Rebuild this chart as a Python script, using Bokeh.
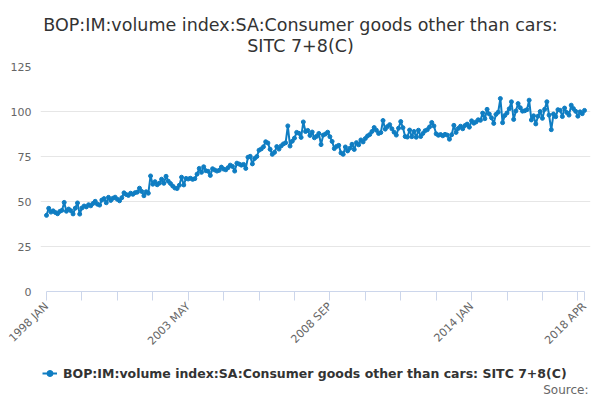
import math
from bokeh.plotting import figure
from bokeh.layouts import column
from bokeh.models import Range1d, FixedTicker, Label, Legend, LegendItem, ColumnDataSource
from bokeh.embed import file_html
from bokeh.resources import INLINE

TITLE_1 = "BOP:IM:volume index:SA:Consumer goods other than cars:"
TITLE_2 = "SITC 7+8(C)"
SERIES_NAME = "BOP:IM:volume index:SA:Consumer goods other than cars: SITC 7+8(C)"
SOURCE = "Source:"

MONTH_NAMES = ["JAN", "FEB", "MAR", "APR", "MAY", "JUN",
               "JUL", "AUG", "SEP", "OCT", "NOV", "DEC"]
START_YEAR = 1998

values = [
    # 1998
    42.3, 46.2, 44.1, 44.8, 43.9, 43.2, 44.5, 45.1, 49.5, 44.6, 45.8, 44.9,
    # 1999
    43.1, 46.3, 49.2, 43.0, 46.4, 47.5, 47.0, 48.2, 47.6, 48.9, 50.1, 48.5,
    # 2000
    48.0, 50.8, 51.6, 49.3, 52.3, 50.6, 51.8, 52.4, 51.2, 50.4, 52.1, 54.8,
    # 2001
    53.9, 53.4, 54.6, 54.0, 54.9, 55.2, 57.4, 55.6, 53.2, 55.4, 54.6, 64.2,
    # 2002
    59.6, 61.0, 59.3, 60.2, 62.4, 60.1, 64.0, 61.3, 60.0, 58.6, 57.5, 57.2,
    # 2003
    59.0, 63.5, 59.2, 62.8, 62.5, 62.9, 62.3, 62.7, 65.2, 68.4, 66.2, 69.3,
    # 2004
    67.1, 66.8, 64.5, 68.2, 67.5, 66.9, 67.3, 69.1, 68.0, 67.6, 68.8, 70.2,
    # 2005
    69.5, 66.9, 71.3, 70.8, 70.2, 70.6, 68.4, 74.6, 75.1, 70.9, 73.9, 75.0,
    # 2006
    78.5, 79.2, 80.4, 83.2, 82.5, 79.0, 76.2, 77.3, 80.5, 79.1, 80.9, 82.0,
    # 2007
    82.6, 92.0, 80.8, 83.5, 85.2, 88.4, 87.9, 85.6, 94.2, 88.9, 89.5, 86.7,
    # 2008
    88.6, 85.4, 86.2, 87.8, 81.6, 86.9, 87.5, 88.5, 86.0, 83.4, 79.4, 80.6,
    # 2009
    81.2, 77.0, 76.2, 80.3, 78.1, 79.6, 81.8, 78.9, 82.7, 81.5, 84.2, 83.1,
    # 2010
    85.0, 86.4, 87.2, 88.9, 91.1, 89.6, 87.8, 88.3, 95.0, 90.2, 91.6, 92.7,
    # 2011
    90.4, 88.5, 86.9, 90.7, 94.4, 91.0, 86.1, 85.8, 89.7, 86.0, 88.9, 85.7,
    # 2012
    89.6, 86.1, 87.8, 89.3, 89.9, 91.4, 93.9, 92.0, 87.6, 86.8, 87.2, 86.5,
    # 2013
    87.3, 86.9, 84.6, 87.1, 92.3, 88.4, 90.6, 91.8, 90.4, 92.2, 93.0, 91.3,
    # 2014
    94.8, 93.5, 94.2, 95.4, 95.1, 99.1, 96.0, 101.2, 98.6, 96.5, 93.4, 98.4,
    # 2015
    99.6, 107.2, 93.8, 97.8, 99.2, 101.5, 105.4, 95.6, 100.3, 104.4, 102.1, 100.2,
    # 2016
    100.4, 101.0, 106.3, 95.3, 97.6, 93.1, 97.4, 100.0, 96.2, 101.2, 105.4, 98.0,
    # 2017
    89.9, 98.6, 97.1, 101.0, 100.7, 97.2, 101.9, 99.4, 98.0, 103.5, 101.6, 100.1,
    # 2018
    97.4, 99.8, 98.8, 100.6,
]

periods = [f"{START_YEAR + i // 12} {MONTH_NAMES[i % 12]}" for i in range(len(values))]
x_ticks = [0, 16, 32, 48, 64, 80, 96, 112, 128, 144, 160, 176, 192, 208, 224, 240, 243]
x_tick_labels = ["1998 JAN", "2003 MAY", "2008 SEP", "2014 JAN", "2018 APR"]
y_ticks = [0, 25, 50, 75, 100, 125]

LINE_COLOR = "#0f7dc2"
FONT = "DejaVu Sans"

# frame of the chart spans page x 40..590; the data run from x=46 to x=584
FRAME_L, FRAME_R = 40, 590
DATA_L, DATA_R = 46, 584
n = len(values)
px_per_month = (DATA_R - DATA_L) / (n - 1)
x_start = -(DATA_L - FRAME_L) / px_per_month
x_end = (n - 1) + (FRAME_R - DATA_R) / px_per_month

source = ColumnDataSource(dict(x=list(range(n)), y=values, period=periods))


def blank_figure(h):
    f = figure(width=600, height=h, x_range=Range1d(0, 1), y_range=Range1d(0, 1),
               output_backend="svg", toolbar_location=None,
               x_axis_location=None, y_axis_location=None,
               min_border_left=FRAME_L, min_border_right=600 - FRAME_R,
               min_border_top=0, min_border_bottom=0)
    f.grid.visible = False
    f.outline_line_color = None
    f.background_fill_color = "white"
    f.border_fill_color = "white"
    return f


# ---- header with the two title lines (label x is measured from the frame's left edge)
header = blank_figure(58)
header.add_layout(Label(x=300 - FRAME_L, y=34, x_units="screen", y_units="screen", text=TITLE_1,
                        text_align="center", text_baseline="alphabetic",
                        text_font=FONT, text_font_size="17.5px", text_color="#333333"))
header.add_layout(Label(x=300 - FRAME_L, y=12.5, x_units="screen", y_units="screen", text=TITLE_2,
                        text_align="center", text_baseline="alphabetic",
                        text_font=FONT, text_font_size="17.5px", text_color="#333333"))

# ---- main chart
p = figure(width=600, height=297,
           x_range=Range1d(x_start, x_end), y_range=Range1d(0, 125),
           output_backend="svg", toolbar_location=None,
           min_border_left=FRAME_L, min_border_right=600 - FRAME_R,
           min_border_top=8, min_border_bottom=62)
p.outline_line_color = None
p.background_fill_color = "white"
p.border_fill_color = "white"

p.xgrid.visible = False
p.ygrid.grid_line_color = "#e6e6e6"
p.ygrid.grid_line_width = 1

p.yaxis.ticker = FixedTicker(ticks=y_ticks)
p.yaxis.axis_line_color = None
p.yaxis.major_tick_line_color = None
p.yaxis.major_tick_out = 0
p.yaxis.major_tick_in = 0
p.yaxis.minor_tick_line_color = None
p.yaxis.major_label_text_font = FONT
p.yaxis.major_label_text_font_size = "11px"
p.yaxis.major_label_text_color = "#666666"
p.yaxis.major_label_standoff = 9

overrides = {}
for t in x_ticks:
    overrides[t] = periods[t] if periods[t] in x_tick_labels else ""
p.xaxis.ticker = FixedTicker(ticks=x_ticks)
p.xaxis.bounds = (0, n - 1)
p.xaxis.major_label_overrides = overrides
p.xaxis.axis_line_color = "#ccd6eb"
p.xaxis.major_tick_line_color = "#ccd6eb"
p.xaxis.major_tick_out = 9
p.xaxis.major_tick_in = 0
p.xaxis.minor_tick_line_color = None
p.xaxis.minor_tick_out = 0
p.xaxis.major_label_orientation = math.pi / 4
p.xaxis.major_label_text_font = FONT
p.xaxis.major_label_text_font_size = "11px"
p.xaxis.major_label_text_color = "#666666"
p.xaxis.major_label_standoff = 4

p.line("x", "y", source=source, line_color=LINE_COLOR, line_width=2)
p.scatter("x", "y", source=source, size=4, marker="circle",
          fill_color=LINE_COLOR, line_color=LINE_COLOR)

# ---- footer with legend and source; the key glyphs reuse the series (out of view here)
footer = blank_figure(45)
k_line = footer.line("x", "y", source=source, line_color=LINE_COLOR, line_width=2)
k_pts = footer.scatter("x", "y", source=source, size=5, marker="circle",
                       fill_color=LINE_COLOR, line_color=LINE_COLOR)
legend = Legend(items=[LegendItem(label=SERIES_NAME, renderers=[k_line, k_pts])],
                location=(42 - FRAME_L, 17), orientation="horizontal",
                label_text_font=FONT, label_text_font_style="bold",
                label_text_font_size="12.5px", label_text_color="#333333",
                glyph_width=15, glyph_height=20, label_height=20, label_standoff=6,
                padding=0, margin=0, spacing=0,
                border_line_color=None, background_fill_alpha=0)
footer.add_layout(legend)
footer.add_layout(Label(x=588 - FRAME_L, y=11, x_units="screen", y_units="screen", text=SOURCE,
                        text_align="right", text_baseline="middle",
                        text_font=FONT, text_font_size="12px", text_color="#666666"))

layout = column(header, p, footer, spacing=0)
open("out.html", "w").write(file_html(layout, INLINE))
